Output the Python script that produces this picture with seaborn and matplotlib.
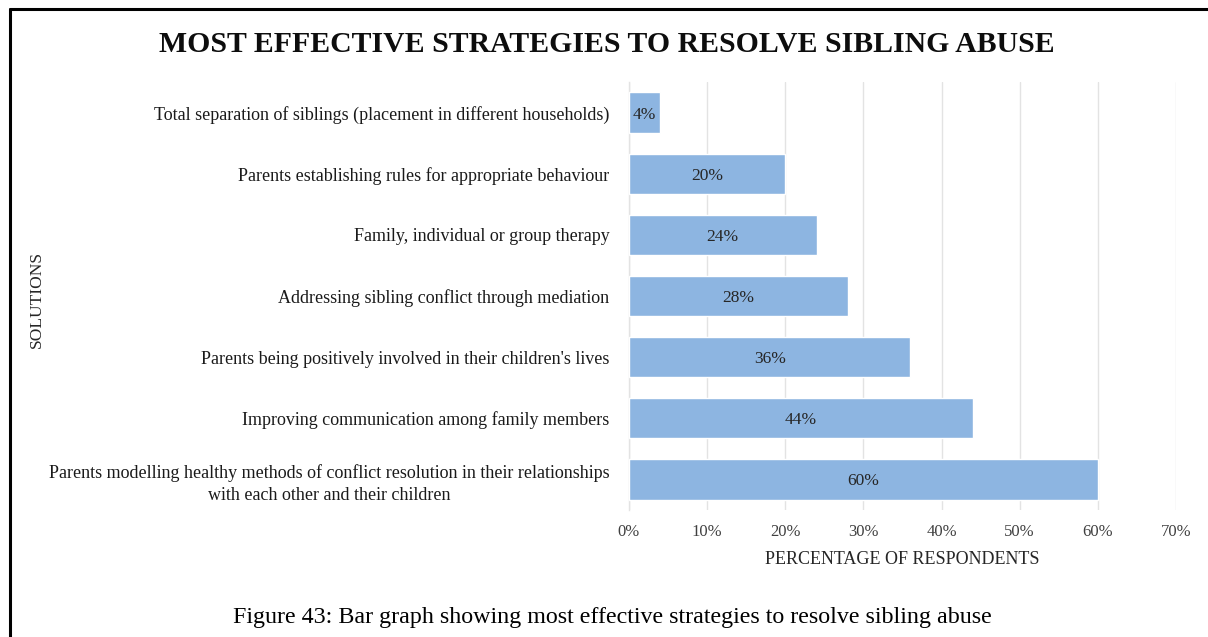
import matplotlib
matplotlib.use("Agg")
import matplotlib.pyplot as plt
from matplotlib.lines import Line2D
import seaborn as sns
import pandas as pd

# Survey responses: share of respondents naming each strategy
strategies = [
    "Total separation of siblings (placement in different households)",
    "Parents establishing rules for appropriate behaviour",
    "Family, individual or group therapy",
    "Addressing sibling conflict through mediation",
    "Parents being positively involved in their children's lives",
    "Improving communication among family members",
    "Parents modelling healthy methods of conflict resolution in their relationships\nwith each other and their children",
]
percentages = [4, 20, 24, 28, 36, 44, 60]
x_ticks = [0, 10, 20, 30, 40, 50, 60, 70]

df = pd.DataFrame({"strategy": strategies, "pct": percentages})

sns.set_theme(style="white")
plt.rcParams["font.family"] = ["Liberation Serif", "DejaVu Serif"]

W, H = 1208, 637
fig = plt.figure(figsize=(W / 100, H / 100), dpi=100)
ax = fig.add_axes([629 / W, 1 - 510 / H, (1176 - 629) / W, (510 - 82) / H])

sns.barplot(data=df, x="pct", y="strategy", orient="h", color="#8DB5E1",
            saturation=1, width=0.66, ax=ax, zorder=3)

ax.set_xlim(0, 70)
ax.set_xticks(x_ticks)
ax.set_xticklabels([f"{t}%" for t in x_ticks], fontsize=12, color="#404040")
ax.grid(axis="x", color="#E3E3E3", linewidth=1, zorder=0)
ax.set_axisbelow(True)
for side in ["top", "right", "bottom"]:
    ax.spines[side].set_visible(False)
ax.spines["left"].set_color("#E3E3E3")
ax.spines["left"].set_linewidth(1)
ax.tick_params(axis="x", length=0, pad=10)
ax.tick_params(axis="y", length=0, pad=14)

for lbl in ax.get_yticklabels():
    lbl.set_fontsize(13)
    lbl.set_color("#1a1a1a")
    lbl.set_multialignment("center")
    lbl.set_linespacing(1.4)

value_labels = ax.bar_label(ax.containers[0], labels=[f"{v}%" for v in percentages],
                            label_type="center", fontsize=12.5, color="#262626")
for t in value_labels:
    t.set_va("center_baseline")

ax.set_xlabel("PERCENTAGE OF RESPONDENTS", fontsize=13, color="#262626", labelpad=8)
ax.set_ylabel("")
fig.text(37 / W, 1 - 299 / H, "SOLUTIONS", rotation=90, ha="center", va="center",
         fontsize=12.5, color="#262626")

fig.text(607 / W, 1 - 45 / H, "MOST EFFECTIVE STRATEGIES TO RESOLVE SIBLING ABUSE",
         ha="center", va="center", fontsize=21.4, fontweight="bold", color="#0d0d0d")

fig.text(612 / W, 1 - 618 / H,
         "Figure 43: Bar graph showing most effective strategies to resolve sibling abuse",
         ha="center", va="center", fontsize=17.3, color="#000000")

# Page frame around the figure
fig.add_artist(Line2D([10 / W, 1], [1 - 9 / H, 1 - 9 / H], transform=fig.transFigure,
                      color="black", linewidth=2.2))
fig.add_artist(Line2D([10 / W, 10 / W], [0, 1 - 9 / H], transform=fig.transFigure,
                      color="black", linewidth=2.2))

fig.savefig("out.png", dpi=100)
